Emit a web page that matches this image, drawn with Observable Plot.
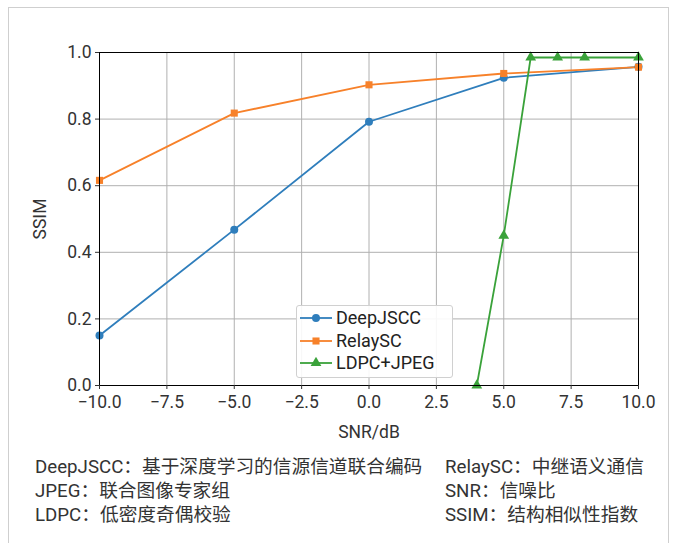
<!DOCTYPE html>
<html><head><meta charset="utf-8">
<script src="https://cdn.jsdelivr.net/npm/d3@7"></script>
<script src="https://cdn.jsdelivr.net/npm/@observablehq/plot@0.6"></script>
<style>
body{margin:0;background:#fff;width:676px;height:543px;overflow:hidden;position:relative;font-family:Roboto,"Noto Sans CJK SC",sans-serif;}
#box{position:absolute;left:8px;top:7px;width:659px;height:560px;border:1px solid #cfcfcf;}
#chart{position:absolute;left:0;top:0;}
#legend{position:absolute;left:296px;top:305px;width:157px;height:73px;border:1px solid #d0d0d0;border-radius:3px;background:rgba(255,255,255,0.9);box-sizing:border-box;padding:1px 0 0 3px;font-size:18px;color:#222;font-family:Roboto,sans-serif;}
#legend div{height:22.5px;line-height:22.5px;display:flex;align-items:center;}
#legend svg{margin-right:4px;}
#caption{position:absolute;left:35px;top:455px;font-family:Roboto,"Noto Sans CJK SC",sans-serif;font-size:18.7px;color:#333;line-height:24px;}
#caption .row{display:flex;white-space:nowrap;}
#caption .l{width:410px;}
</style></head><body>
<div id="box"></div>
<div id="chart"></div>
<div id="legend"></div>
<div id="caption"></div>
<script>
const snr = [-10, -5, 0, 5, 10];
const deepjscc = [0.150, 0.468, 0.792, 0.924, 0.957];
const relaysc = [0.616, 0.818, 0.903, 0.937, 0.956];
const ldpcX = [4, 5, 6, 7, 8, 10];
const ldpcJpeg = [0.0, 0.45, 0.985, 0.985, 0.985, 0.985];
const seriesNames = ["DeepJSCC", "RelaySC", "LDPC+JPEG"];
const colors = ["#2f7ebc", "#f7812a", "#3aa23a"];
const symbols = ["circle", "square", "triangle"];
const xTicks = [-10, -7.5, -5, -2.5, 0, 2.5, 5, 7.5, 10];
const yTicks = [0, 0.2, 0.4, 0.6, 0.8, 1.0];
const captionRows = [
  ["DeepJSCC：基于深度学习的信源信道联合编码", "RelaySC：中继语义通信"],
  ["JPEG：联合图像专家组", "SNR：信噪比"],
  ["LDPC：低密度奇偶校验", "SSIM：结构相似性指数"]
];

const data = [
  ...snr.map((x, i) => ({x, y: deepjscc[i], s: seriesNames[0]})),
  ...snr.map((x, i) => ({x, y: relaysc[i], s: seriesNames[1]})),
  ...ldpcX.map((x, i) => ({x, y: ldpcJpeg[i], s: seriesNames[2]}))
];

const fmt = d3.format(".1f");
const chart = Plot.plot({
  width: 676, height: 445,
  marginLeft: 99, marginRight: 38, marginTop: 52, marginBottom: 60,
  style: {fontFamily: "Roboto, sans-serif", fontSize: "17.5px", color: "#333", background: "transparent"},
  x: {domain: [-10, 10]},
  y: {domain: [0, 1]},
  color: {domain: seriesNames, range: colors},
  symbol: {domain: seriesNames, range: symbols},
  marks: [
    Plot.gridX(xTicks, {stroke: "#b0b0b0", strokeOpacity: 1, strokeWidth: 1}),
    Plot.gridY(yTicks, {stroke: "#b0b0b0", strokeOpacity: 1, strokeWidth: 1}),
    Plot.line(data, {x: "x", y: "y", z: "s", stroke: "s", strokeWidth: 1.8}),
    Plot.dot(data, {x: "x", y: "y", fill: "s", symbol: "s", r: 4, stroke: "none"}),
    Plot.frame({stroke: "#000", strokeWidth: 1}),
    Plot.axisX({ticks: xTicks, tickFormat: fmt, label: "SNR/dB", labelAnchor: "center", labelArrow: "none", labelOffset: 52, tickSize: 4, tickPadding: 6, fontSize: 17.5}),
    Plot.axisY({ticks: yTicks, tickFormat: fmt, label: "SSIM", labelAnchor: "center", labelArrow: "none", labelOffset: 66, tickSize: 4, tickPadding: 4, fontSize: 17.5})
  ]
});
document.getElementById("chart").appendChild(chart);

const leg = document.getElementById("legend");
seriesNames.forEach((n, i) => {
  const row = document.createElement("div");
  const sym = d3.symbol(i === 0 ? d3.symbolCircle : i === 1 ? d3.symbolSquare : d3.symbolTriangle, 50)();
  row.innerHTML = `<svg width="32" height="12"><line x1="0" x2="32" y1="6" y2="6" stroke="${colors[i]}" stroke-width="1.8"/><path transform="translate(16,6)" d="${sym}" fill="${colors[i]}"/></svg>${n}`;
  leg.appendChild(row);
});
const cap = document.getElementById("caption");
captionRows.forEach(r => {
  const row = document.createElement("div");
  row.className = "row";
  row.innerHTML = `<span class="l">${r[0]}</span><span>${r[1]}</span>`;
  cap.appendChild(row);
});
</script>
</body></html>
